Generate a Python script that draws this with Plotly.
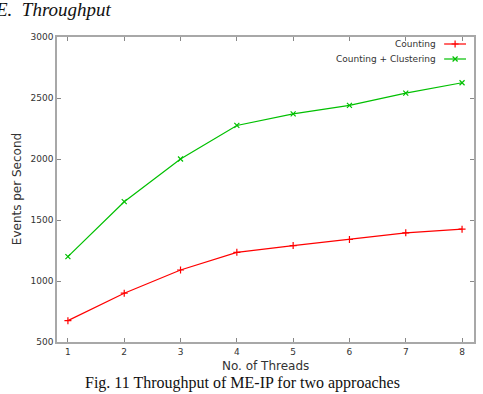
import plotly.graph_objects as go

threads = [1, 2, 3, 4, 5, 6, 7, 8]
counting = [675, 900, 1090, 1235, 1290, 1340, 1395, 1425]
clustering = [1200, 1650, 2000, 2275, 2370, 2440, 2540, 2625]
y_ticks = [500, 1000, 1500, 2000, 2500, 3000]
series_names = ["Counting", "Counting + Clustering"]
colors = ["#ff0000", "#00c000"]

W, H = 483, 394
L, R, T, B = 57, 7, 37, 52
pw, ph = W - L - R, H - T - B

def px(x):
    return (x - L) / pw

def py(y):
    return 1 - (y - T) / ph

fig = go.Figure()
fig.add_trace(go.Scatter(x=threads, y=counting, mode="lines+markers", name=series_names[0],
                         line=dict(color=colors[0], width=1.2),
                         marker=dict(symbol="cross-thin", size=5, line=dict(color=colors[0], width=1.2))))
fig.add_trace(go.Scatter(x=threads, y=clustering, mode="lines+markers", name=series_names[1],
                         line=dict(color=colors[1], width=1.2),
                         marker=dict(symbol="x-thin", size=5, line=dict(color=colors[1], width=1.2))))

# legend samples on an overlay axis
leg_y = [44, 59]
for i in range(2):
    fig.add_trace(go.Scatter(x=[px(446), px(457), px(468)], y=[py(leg_y[i])] * 3,
                             xaxis="x2", yaxis="y2", mode="lines",
                             line=dict(color=colors[i], width=1.2), showlegend=False, hoverinfo="skip"))
    fig.add_trace(go.Scatter(x=[px(457)], y=[py(leg_y[i])], xaxis="x2", yaxis="y2", mode="markers",
                             marker=dict(symbol="cross-thin" if i == 0 else "x-thin", size=5,
                                         line=dict(color=colors[i], width=1.2)),
                             showlegend=False, hoverinfo="skip"))
    fig.add_annotation(x=px(440), y=py(leg_y[i]), xref="paper", yref="paper", text=series_names[i],
                       showarrow=False, xanchor="right", yanchor="middle",
                       font=dict(family="DejaVu Sans", size=9, color="#333"))

axis_common = dict(showline=True, linecolor="#a8a8a8", linewidth=1.5, mirror="ticks",
                   ticks="inside", ticklen=4, tickcolor="#888", showgrid=False, zeroline=False,
                   tickfont=dict(family="DejaVu Sans", size=9, color="#333"))
fig.update_layout(
    width=W, height=H, margin=dict(l=L, r=R, t=T, b=B),
    paper_bgcolor="white", plot_bgcolor="white", showlegend=False,
    xaxis=dict(range=[0.806, 8.212], tickvals=threads, title=None, **axis_common),
    yaxis=dict(range=[500, 3000], tickvals=y_ticks, title=None, **axis_common),
    xaxis2=dict(range=[0, 1], overlaying="x", visible=False, fixedrange=True),
    yaxis2=dict(range=[0, 1], overlaying="y", visible=False, fixedrange=True),
)

fig.add_annotation(x=px(266), y=py(366), xref="paper", yref="paper", text="No. of Threads",
                   showarrow=False, xanchor="center", yanchor="middle",
                   font=dict(family="DejaVu Sans", size=12, color="#333"))
fig.add_annotation(x=px(17), y=py(189), xref="paper", yref="paper", text="Events per Second",
                   showarrow=False, xanchor="center", yanchor="middle", textangle=-90,
                   font=dict(family="DejaVu Sans", size=12, color="#333"))
fig.add_annotation(x=px(-7), y=py(9), xref="paper", yref="paper", text="<i>E.  Throughput</i>",
                   showarrow=False, xanchor="left", yanchor="middle",
                   font=dict(family="Liberation Serif", size=19, color="#111"))
fig.add_annotation(x=px(243), y=py(383), xref="paper", yref="paper",
                   text="Fig. 11 Throughput of ME-IP for two approaches",
                   showarrow=False, xanchor="center", yanchor="middle",
                   font=dict(family="Liberation Serif", size=16, color="#111"))

fig.write_html("out.html")
